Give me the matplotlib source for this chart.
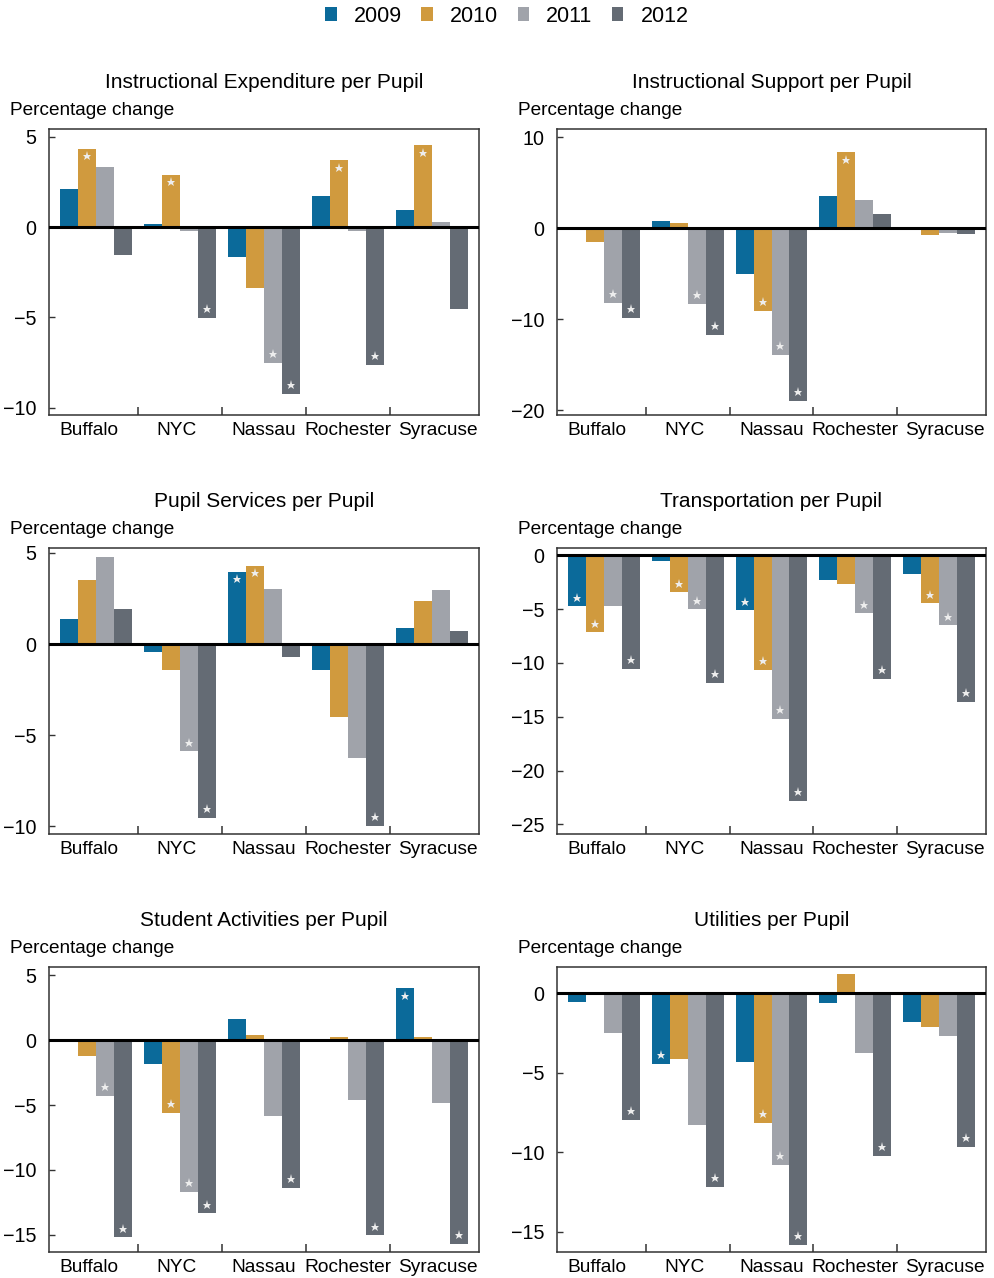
import numpy as np
import matplotlib
matplotlib.use('Agg')
import matplotlib.pyplot as plt
from matplotlib.patches import Patch
from matplotlib.transforms import offset_copy

plt.rcParams['font.family'] = ['Liberation Sans', 'DejaVu Sans']

years = ['2009', '2010', '2011', '2012']
cities = ['Buffalo', 'NYC', 'Nassau', 'Rochester', 'Syracuse']
colors = ['#0B6A9A', '#D09A3E', '#A0A3AA', '#646B74']

# values per year (rows) and city (columns); stars mark significant changes
instr_exp = [[2.13, 0.19, -1.63, 1.74, 0.93],
             [4.35, 2.91, -3.35, 3.69, 4.52],
             [3.30, -0.24, -7.52, -0.24, 0.30],
             [-1.57, -5.02, -9.24, -7.63, -4.52]]
instr_exp_star = [[0, 0, 0, 0, 0], [1, 1, 0, 1, 1], [0, 0, 1, 0, 0], [0, 1, 1, 1, 0]]

instr_sup = [[-0.10, 0.81, -4.98, 3.55, -0.05],
             [-1.50, 0.59, -9.05, 8.39, -0.73],
             [-8.17, -8.28, -13.88, 3.11, -0.51],
             [-9.82, -11.68, -18.94, 1.58, -0.59]]
instr_sup_star = [[0, 0, 0, 0, 0], [0, 0, 1, 1, 0], [1, 1, 1, 0, 0], [1, 1, 1, 0, 0]]

pupil_srv = [[1.39, -0.46, 3.97, -1.44, 0.90],
             [3.53, -1.44, 4.30, -4.02, 2.38],
             [4.79, -5.89, 3.03, -6.27, 2.98],
             [1.94, -9.56, -0.73, -10.00, 0.73]]
pupil_srv_star = [[0, 0, 1, 0, 0], [0, 0, 1, 0, 0], [0, 1, 0, 0, 0], [0, 1, 0, 1, 0]]

transport = [[-4.75, -0.56, -5.12, -2.33, -1.77],
             [-7.17, -3.45, -10.62, -2.70, -4.47],
             [-4.75, -5.03, -15.19, -5.40, -6.52],
             [-10.53, -11.83, -22.83, -11.46, -13.60]]
transport_star = [[1, 0, 1, 0, 0], [1, 1, 1, 0, 1], [0, 1, 1, 1, 1], [1, 1, 1, 1, 1]]

activities = [[0.00, -1.82, 1.62, -0.13, 4.00],
              [-1.21, -5.59, 0.38, 0.23, 0.23],
              [-4.28, -11.67, -5.82, -4.59, -4.82],
              [-15.21, -13.36, -11.36, -15.05, -15.74]]
activities_star = [[0, 0, 0, 0, 1], [0, 1, 0, 0, 0], [1, 1, 0, 0, 0], [1, 1, 1, 1, 1]]

utilities = [[-0.53, -4.43, -4.31, -0.65, -1.79],
             [0.05, -4.14, -8.15, 1.18, -2.16],
             [-2.48, -8.28, -10.80, -3.74, -2.67],
             [-7.96, -12.18, -15.84, -10.23, -9.66]]
utilities_star = [[0, 1, 0, 0, 0], [0, 0, 1, 0, 0], [0, 0, 1, 0, 0], [1, 1, 1, 1, 1]]

panels = [
    ('Instructional Expenditure per Pupil', instr_exp, instr_exp_star, (-10.4, 5.43), [-10, -5, 0, 5]),
    ('Instructional Support per Pupil', instr_sup, instr_sup_star, (-20.5, 10.9), [-20, -10, 0, 10]),
    ('Pupil Services per Pupil', pupil_srv, pupil_srv_star, (-10.42, 5.27), [-10, -5, 0, 5]),
    ('Transportation per Pupil', transport, transport_star, (-25.9, 0.68), [-25, -20, -15, -10, -5, 0]),
    ('Student Activities per Pupil', activities, activities_star, (-16.33, 5.64), [-15, -10, -5, 0, 5]),
    ('Utilities per Pupil', utilities, utilities_star, (-16.28, 1.64), [-15, -10, -5, 0]),
]

W, H = 994, 1278
fig = plt.figure(figsize=(W / 100, H / 100), dpi=100)

lefts = [49, 557]
widths = [430, 429]
tops = [129, 548, 967]
heights = [286, 286, 285]

x = np.arange(len(cities))
bw = 0.214
# labels sit a little off the group centres at the ends, as in the original
label_x = x + np.array([-0.08, -0.04, 0.0, 0.0, 0.07])

for k, (title, vals, stars, ylim, yticks) in enumerate(panels):
    r, c = divmod(k, 2)
    ax = fig.add_axes([lefts[c] / W, 1 - (tops[r] + heights[r]) / H,
                       widths[c] / W, heights[r] / H])
    tr_pos = offset_copy(ax.transData, fig=fig, y=-5.6, units='points')
    tr_neg = offset_copy(ax.transData, fig=fig, y=6.4, units='points')
    for i in range(4):
        xs = x + (i - 1.5) * bw
        v = np.array(vals[i])
        ax.bar(xs, v, width=bw, color=colors[i], linewidth=0, zorder=2)
        s = np.array(stars[i]) == 1
        pos = s & (v > 0)
        neg = s & (v <= 0)
        ax.plot(xs[pos], v[pos], ls='none', marker='*', ms=6.5, mew=0,
                color='#EDEDED', transform=tr_pos, zorder=4)
        ax.plot(xs[neg], v[neg], ls='none', marker='*', ms=6.5, mew=0,
                color='#EDEDED', transform=tr_neg, zorder=4)
    ax.axhline(0, color='black', lw=2.2, zorder=3)
    ax.set_xlim(-0.56, 4.56)
    ax.set_ylim(*ylim)
    ax.set_yticks(yticks)
    ax.set_yticklabels([str(t).replace('-', '\u2212') for t in yticks])
    ax.set_xticks(label_x)
    ax.set_xticklabels(cities)
    ax.set_xticks(x[:-1] + 0.5, minor=True)
    ax.tick_params(axis='x', which='major', length=0, pad=5, labelsize=13.8)
    ax.tick_params(axis='x', which='minor', direction='in', length=6, width=1.1, color='#333333')
    ax.tick_params(axis='y', direction='in', length=4, width=1.0, pad=9,
                   labelsize=14.2, color='#333333')
    for sp in ax.spines.values():
        sp.set_color('#333333')
        sp.set_linewidth(1.1)
    ax.annotate(title, xy=(0.5, 1), xycoords='axes fraction', xytext=(0, 33.5),
                textcoords='offset points', ha='center', va='center', fontsize=15)
    ax.annotate('Percentage change', xy=(0, 1), xycoords='axes fraction', xytext=(-28, 13.2),
                textcoords='offset points', ha='left', va='center', fontsize=13.7)

handles = [Patch(facecolor=col, edgecolor='none') for col in colors]
fig.legend(handles, years, loc='center', bbox_to_anchor=(0.51, 1 - 16 / H), ncol=4,
           frameon=False, fontsize=15.5, handlelength=0.53, handleheight=0.65,
           handletextpad=0.8, columnspacing=0.9)

fig.savefig('out.png', dpi=100)
